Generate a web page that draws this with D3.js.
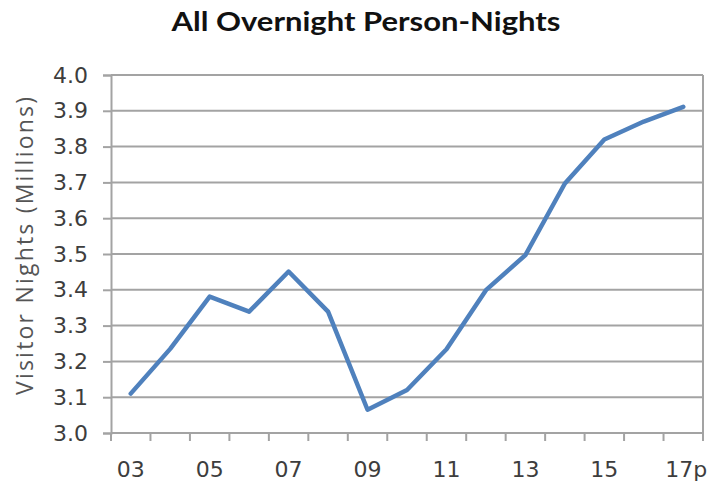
<!DOCTYPE html>
<html>
<head>
<meta charset="utf-8">
<script src="https://cdn.jsdelivr.net/npm/d3@7"></script>
<style>
  html, body { margin: 0; padding: 0; background: #fff; }
  svg { display: block; }
</style>
</head>
<body>
<svg id="chart" width="711" height="485"></svg>
<script>
// Years on the category axis and overnight person-nights (millions)
const years = ["03","04","05","06","07","08","09","10","11","12","13","14","15","16","17p"];
const nights = [3.110, 3.235, 3.381, 3.339, 3.451, 3.339, 3.065, 3.120, 3.234, 3.399, 3.497, 3.697, 3.820, 3.870, 3.911];
const yTicks = [3.0, 3.1, 3.2, 3.3, 3.4, 3.5, 3.6, 3.7, 3.8, 3.9, 4.0];
const xTickLabels = ["03","05","07","09","11","13","15","17p"];

const svg = d3.select("#chart");
const margin = { top: 75, right: 8, bottom: 52, left: 111 };
const W = 711, H = 485;
const plotW = W - margin.left - margin.right;
const plotH = H - margin.top - margin.bottom;

const x = d3.scaleBand().domain(years).range([0, plotW]).paddingInner(0).paddingOuter(0);
const y = d3.scaleLinear().domain([3.0, 4.0]).range([plotH, 0]);

const grey = "#a3a3a3";
const textCol = "#3d3d3d";
const g = svg.append("g").attr("transform", `translate(${margin.left},${margin.top})`);

// Horizontal gridlines
g.append("g")
  .selectAll("line")
  .data(yTicks)
  .join("line")
  .attr("x1", 0).attr("x2", plotW)
  .attr("y1", d => y(d)).attr("y2", d => y(d))
  .attr("stroke", grey).attr("stroke-width", 2);

// Right border of the plot area
g.append("line")
  .attr("x1", plotW).attr("x2", plotW)
  .attr("y1", y(4.0)).attr("y2", y(3.0))
  .attr("stroke", grey).attr("stroke-width", 2);

// Y axis
const yAxis = g.append("g")
  .call(d3.axisLeft(y).tickValues(yTicks).tickFormat(d3.format(".1f")).tickSize(8).tickPadding(15));
yAxis.select(".domain").attr("stroke", grey).attr("stroke-width", 2);
yAxis.selectAll(".tick line").attr("stroke", grey).attr("stroke-width", 2);
yAxis.selectAll(".tick text")
  .attr("fill", textCol)
  .style("font-family", "'DejaVu Sans', sans-serif")
  .style("font-size", "22px");

// X axis: tick marks at category boundaries, labels every other year
const xAxis = g.append("g").attr("transform", `translate(0,${plotH})`);
xAxis.append("line")
  .attr("x1", 0).attr("x2", plotW)
  .attr("stroke", grey).attr("stroke-width", 2);
const edges = years.map(d => x(d)).concat([x(years[years.length - 1]) + x.bandwidth()]);
xAxis.selectAll("line.edge")
  .data(edges)
  .join("line")
  .attr("class", "edge")
  .attr("x1", d => d).attr("x2", d => d)
  .attr("y1", 0).attr("y2", 8)
  .attr("stroke", grey).attr("stroke-width", 2);
xAxis.selectAll("text.lbl")
  .data(xTickLabels)
  .join("text")
  .attr("class", "lbl")
  .attr("x", d => x(d) + x.bandwidth() / 2)
  .attr("dx", d => d.endsWith("p") ? 3 : 0)
  .attr("y", 43.7)
  .attr("text-anchor", "middle")
  .attr("fill", textCol)
  .style("font-family", "'DejaVu Sans', sans-serif")
  .style("font-size", "22px")
  .text(d => d);

// Data line
const line = d3.line()
  .x((d, i) => x(years[i]) + x.bandwidth() / 2)
  .y(d => y(d));
g.append("path")
  .datum(nights)
  .attr("d", line)
  .attr("fill", "none")
  .attr("stroke", "#4f81bd")
  .attr("stroke-width", 4.5)
  .attr("stroke-linejoin", "round")
  .attr("stroke-linecap", "round");

// Title
svg.append("text")
  .attr("x", 366).attr("y", 31)
  .attr("text-anchor", "middle")
  .attr("fill", "#111")
  .style("font-family", "Lato, 'Open Sans', sans-serif")
  .style("font-weight", "bold")
  .style("font-size", "26px")
  .attr("textLength", 389)
  .attr("lengthAdjust", "spacingAndGlyphs")
  .text("All Overnight Person-Nights");

// Y axis title
svg.append("text")
  .attr("transform", `translate(33,246) rotate(-90)`)
  .attr("text-anchor", "middle")
  .attr("fill", "#555")
  .style("font-family", "'Open Sans', 'DejaVu Sans', sans-serif")
  .style("font-size", "23px")
  .attr("textLength", 298)
  .attr("lengthAdjust", "spacing")
  .text("Visitor Nights (Millions)");
</script>
</body>
</html>
